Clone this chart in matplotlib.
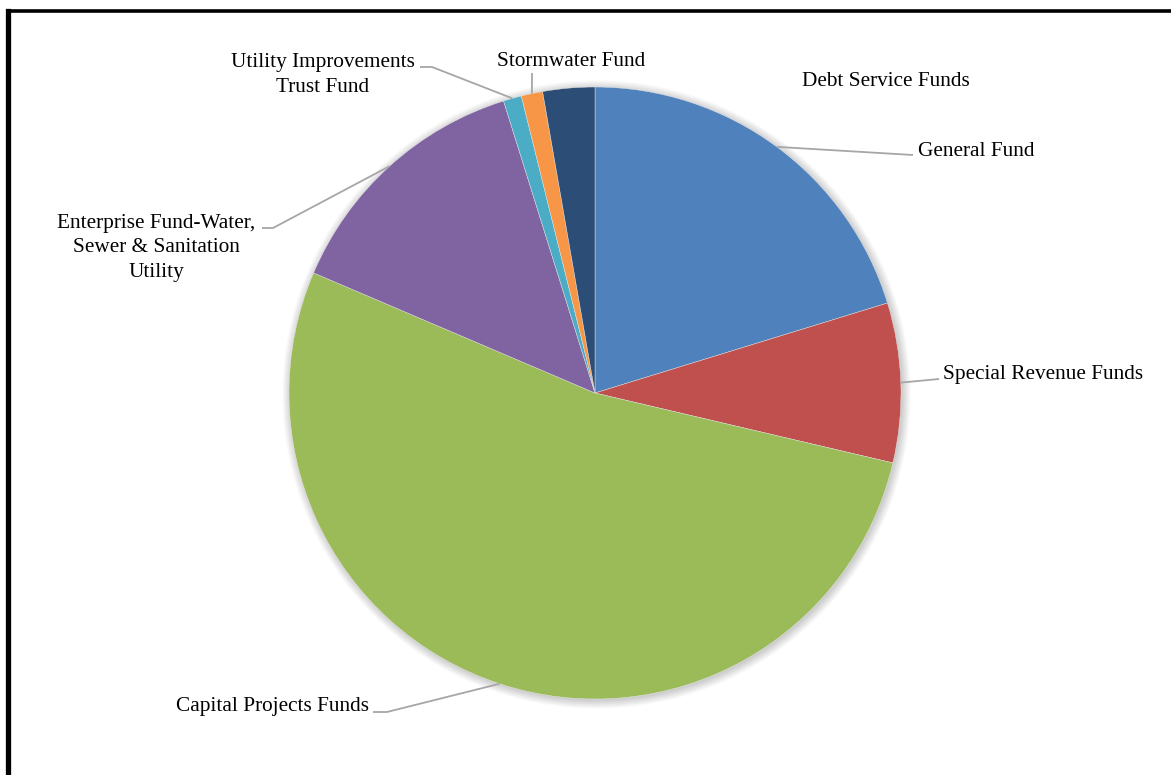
import numpy as np
import matplotlib
matplotlib.use("Agg")
import matplotlib.pyplot as plt
from matplotlib.patches import Circle

# fund shares of the total (percent), clockwise from 12 o'clock
funds = ["General Fund", "Special Revenue Funds", "Capital Projects Funds",
         "Enterprise Fund-Water,\nSewer & Sanitation\nUtility",
         "Utility Improvements\nTrust Fund", "Stormwater Fund",
         "Debt Service Funds"]
shares = [20.25, 8.42, 52.75, 13.75, 0.96, 1.13, 2.74]
colors = ["#4F81BD", "#C0504D", "#9BBB59", "#8064A2",
          "#4BACC6", "#F79646", "#2C4D75"]

W, H = 1171, 775
plt.rcParams["font.family"] = ["Liberation Serif", "DejaVu Serif"]

fig = plt.figure(figsize=(W / 100, H / 100), dpi=100)
ax = fig.add_axes([0, 0, 1, 1])

cx, cy, r = 595, 382, 306

# soft shadow round the pie
for i in range(10):
    ax.add_patch(Circle((cx + 1.5, cy - 1.5), r + i * 0.9, color="black",
                        alpha=0.018, lw=0, zorder=1))

wedges, _ = ax.pie(shares, colors=colors, startangle=90, counterclock=False,
                   center=(cx, cy), radius=r, frame=True,
                   wedgeprops=dict(linewidth=0.3, edgecolor="#E8E8E8", zorder=2))
ax.set_xlim(0, W)
ax.set_ylim(0, H)
ax.set_aspect("equal")
ax.axis("off")

# label placement: text centre, then the leader path from the slice outward
labels = {
    0: dict(xy=(976, 624), path=[(913, 620)]),
    1: dict(xy=(1043, 400), path=[(939, 396)]),
    2: dict(xy=(272, 68), path=[(387, 63), (373, 63)]),
    3: dict(xy=(156, 527), path=[(273, 547), (262, 547)]),
    4: dict(xy=(323, 700), path=[(432, 708), (420, 708)]),
    5: dict(xy=(571, 713), path=[(532, 702)]),
    6: dict(xy=(886, 693), path=None),
}

for i, w in enumerate(wedges):
    spec = labels[i]
    ax.text(spec["xy"][0], spec["xy"][1], funds[i], ha="center", va="center",
            fontsize=15.3, color="black", linespacing=1.4, zorder=5)
    if spec["path"] is None:
        continue
    mid = np.deg2rad((w.theta1 + w.theta2) / 2)
    x0 = w.center[0] + w.r * np.cos(mid)
    y0 = w.center[1] + w.r * np.sin(mid)
    xs = [x0] + [p[0] for p in spec["path"]]
    ys = [y0] + [p[1] for p in spec["path"]]
    ax.plot(xs, ys, color="#A6A6A6", lw=1.3, zorder=4, solid_capstyle="butt")

# heavy black frame (top and left edges inside the picture)
ax.plot([7.5, 7.5], [-10, H - 10.5], color="black", lw=3.8, zorder=6,
        solid_capstyle="projecting")
ax.plot([7.5, W + 10], [H - 10.5, H - 10.5], color="black", lw=2.6, zorder=6,
        solid_capstyle="projecting")

fig.savefig("out.png", dpi=100, facecolor="white")
